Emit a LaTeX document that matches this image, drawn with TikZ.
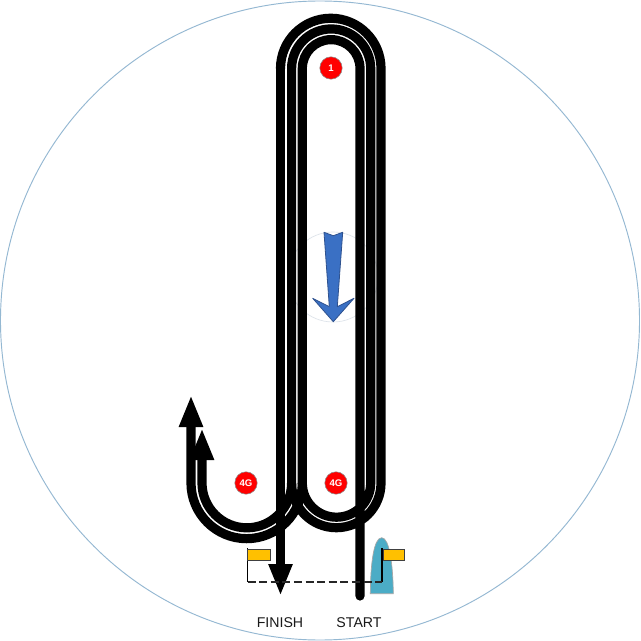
\documentclass[tikz,border=0pt]{standalone}
\usepackage{fontspec}
\setmainfont{Liberation Sans}
\usetikzlibrary{arrows.meta}
\definecolor{ringblue}{HTML}{94B8D2}
\definecolor{arrowblue}{HTML}{3A70C4}
\definecolor{arrowedge}{HTML}{2F528F}
\definecolor{flagyellow}{HTML}{FFC000}
\definecolor{boatteal}{HTML}{4BACC6}
\definecolor{faintring}{HTML}{DDE3EA}
\tikzset{
  track/.style={line width=6.9pt,black,line join=round},
  headed/.style={track,-{Triangle[length=24pt,width=16.5pt]}},
  redmark/.style={circle,fill=red,draw=black!45,line width=.4pt,minimum size=16.8pt,inner sep=0pt,text=white,font=\bfseries\fontsize{7.2}{8}\selectfont},
  flagbox/.style={fill=flagyellow,draw=black!75,line width=.7pt},
  label/.style={font=\fontsize{10.6}{12}\selectfont,text=black!90}
}
\begin{document}
\begin{tikzpicture}[x=.75pt,y=-.75pt]
\useasboundingbox (0,0) rectangle (640,641);
\fill[white] (0,0) rectangle (640,641);
\draw[ringblue,line width=.7pt] (320,320.5) circle[radius=319.5];
% faint circle and course arrow
\draw[faintring,line width=.5pt] (333,277) circle[radius=45];
% course
\draw[track,line cap=round] (360,596) -- (360,68.5)
  arc[start angle=0,end angle=-180,radius=28.85] -- (302.3,483)
  arc[start angle=180,end angle=0,radius=34.2] -- (370.7,68.5)
  arc[start angle=0,end angle=-180,radius=39.55] -- (291.6,483)
  arc[start angle=180,end angle=0,radius=44.7] -- (381,68.5)
  arc[start angle=0,end angle=-180,radius=50.25];
\draw[headed] (280.5,68.5) -- (280.5,596);
\draw[headed] (291.6,483) arc[start angle=0,end angle=180,radius=44.8] -- (202,428);
\draw[headed] (302.3,483) arc[start angle=0,end angle=180,radius=55.65] -- (191,395);
% course direction
\draw[fill=arrowblue,draw=arrowedge,line width=.6pt,line join=round]
  (324,232.3) -- (333.3,235.7) -- (342.7,232.3) -- (337.3,306.7) -- (354,298.3)
  -- (333.3,321.7) -- (312.7,298.3) -- (329.3,306.7) -- cycle;
% marks
\node[redmark] (m1) at (331,68) {1};
\node[redmark] (m2) at (246,483) {4G};
\node[redmark] (m3) at (336,483) {4G};
% boat
\draw[fill=boatteal,draw=black!35,line width=.5pt]
  (370.3,593.7) .. controls (370.5,565) and (373.5,537.7) .. (381.7,537.7)
  .. controls (389.5,537.7) and (393,565) .. (393.3,593.7) -- cycle;
% flags and start line
\coordinate (pl) at (247.5,582);
\coordinate (pr) at (382,582);
\draw[black,line width=1.1pt] (pl) -- (247.5,548);
\draw[black,line width=1.6pt] (pr) -- (382,548);
\draw[flagbox] (247.5,549) rectangle (270,560.5);
\draw[flagbox] (383,549) rectangle (404.5,560.5);
\draw[black!85,line width=.8pt,dash pattern=on 6pt off 2.7pt] (pl) -- (pr);
% labels
\node[label] (fin) at (280,623) {FINISH};
\node[label] (sta) at (359,623) {START};
\end{tikzpicture}
\end{document}
